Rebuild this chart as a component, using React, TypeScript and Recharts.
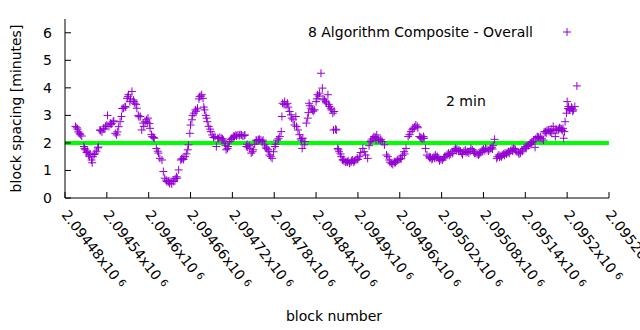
import React from "react";
import { ScatterChart, Scatter, XAxis, YAxis, ReferenceLine } from "recharts";

// block number ticks and their printed mantissas (x10^6)
const xTicks = [
  2094480, 2094540, 2094600, 2094660, 2094720, 2094780, 2094840, 2094900, 2094960,
  2095020, 2095080, 2095140, 2095200, 2095260,
];
const xTickMantissas = [
  "2.09448", "2.09454", "2.0946", "2.09466", "2.09472", "2.09478", "2.09484", "2.0949",
  "2.09496", "2.09502", "2.09508", "2.09514", "2.0952", "2.09526",
];
const yTicks = [0, 1, 2, 3, 4, 5, 6];
const targetMinutes = 2;

// [block number, block spacing in minutes]
const firstSwing: [number, number][] = [
  [2094495, 2.6], [2094497, 2.55], [2094498, 2.5], [2094499, 2.4], [2094501, 2.35], [2094502, 2.3], [2094504, 2.25],
  [2094507, 1.87], [2094508, 1.8], [2094509, 1.75], [2094511, 1.65], [2094512, 1.7], [2094514, 1.56], [2094515, 1.5],
  [2094516, 1.6], [2094518, 1.38], [2094519, 1.28], [2094520, 1.5], [2094522, 1.58], [2094523, 1.63], [2094525, 1.7],
  [2094527, 1.82], [2094528, 1.85], [2094530, 2.47], [2094531, 2.45], [2094533, 2.4], [2094535, 2.53], [2094536, 2.5],
  [2094538, 2.6], [2094540, 2.65], [2094541, 3.0], [2094543, 2.6], [2094545, 2.72], [2094546, 2.68], [2094547, 2.7],
  [2094549, 2.77], [2094550, 2.8], [2094552, 2.35], [2094554, 2.29], [2094555, 2.4], [2094557, 2.59], [2094559, 2.77],
  [2094561, 2.96], [2094562, 3.25], [2094564, 3.26], [2094566, 3.32], [2094567, 3.3], [2094569, 3.62], [2094570, 3.68],
  [2094571, 3.75], [2094573, 3.5], [2094574, 3.6], [2094576, 3.87], [2094578, 3.56], [2094579, 3.5], [2094580, 3.44],
  [2094582, 3.4], [2094583, 3.26], [2094585, 3.0], [2094586, 2.95], [2094588, 2.96], [2094590, 2.47], [2094592, 2.72],
  [2094593, 2.6], [2094595, 2.77], [2094597, 2.84], [2094598, 2.75], [2094599, 2.9], [2094601, 2.7], [2094602, 2.53],
  [2094604, 2.3], [2094605, 2.23], [2094607, 2.2], [2094608, 2.17],
];

const secondSwing: [number, number][] = [
  [2094611, 1.8], [2094613, 1.7], [2094614, 1.63], [2094616, 1.44], [2094619, 1.38], [2094621, 0.96], [2094623, 0.72],
  [2094625, 0.65], [2094626, 0.6], [2094628, 0.58], [2094629, 0.62], [2094630, 0.53], [2094632, 0.6], [2094633, 0.51],
  [2094635, 0.65], [2094636, 0.6], [2094638, 0.7], [2094640, 0.77], [2094641, 0.72], [2094643, 1.02], [2094646, 1.38],
  [2094647, 1.42], [2094649, 1.44], [2094650, 1.4], [2094652, 1.5], [2094654, 1.6], [2094656, 1.75], [2094657, 1.93],
  [2094659, 2.35], [2094660, 2.65], [2094662, 2.84], [2094663, 3.0], [2094665, 3.08], [2094667, 3.2], [2094668, 3.15],
  [2094670, 3.26], [2094672, 3.6], [2094673, 3.68], [2094675, 3.7], [2094676, 3.75], [2094678, 3.62], [2094679, 3.3],
  [2094680, 3.2], [2094682, 3.0], [2094683, 2.9], [2094684, 2.77], [2094686, 2.6], [2094688, 2.5], [2094689, 2.41],
  [2094691, 2.29], [2094693, 2.2], [2094695, 2.23], [2094697, 1.87], [2094699, 2.17], [2094700, 2.15], [2094702, 2.2],
  [2094704, 2.17], [2094706, 2.15], [2094707, 2.1], [2094709, 1.99], [2094710, 1.9], [2094711, 1.75], [2094713, 1.8],
  [2094714, 1.87], [2094716, 2.05], [2094718, 2.12], [2094719, 2.17], [2094721, 2.2], [2094722, 2.25], [2094723, 2.23],
  [2094725, 2.28], [2094726, 2.25], [2094728, 2.29], [2094730, 2.27], [2094731, 2.3], [2094733, 2.29], [2094735, 2.25],
  [2094737, 2.27],
];

const thirdSwing: [number, number][] = [
  [2094738, 2.29], [2094740, 1.87], [2094741, 1.95], [2094742, 1.85], [2094744, 1.9], [2094745, 1.8], [2094747, 1.63],
  [2094749, 1.68], [2094750, 1.75], [2094752, 1.95], [2094754, 2.1], [2094755, 2.08], [2094757, 2.12], [2094758, 2.1],
  [2094759, 2.13], [2094761, 2.1], [2094763, 2.05], [2094764, 2.1], [2094766, 1.93], [2094768, 1.85], [2094769, 1.8],
  [2094771, 1.75], [2094772, 1.7], [2094773, 1.56], [2094775, 1.5], [2094777, 1.44], [2094779, 1.68], [2094781, 1.87],
  [2094782, 1.95], [2094784, 2.1], [2094786, 2.15], [2094788, 2.23], [2094790, 2.41], [2094791, 2.96], [2094792, 3.44],
  [2094794, 3.4], [2094795, 3.5], [2094797, 3.38], [2094799, 3.44], [2094800, 3.3], [2094802, 3.14], [2094804, 3.02],
  [2094805, 2.9], [2094807, 2.84], [2094809, 2.65], [2094811, 2.96], [2094812, 2.6], [2094814, 2.47], [2094816, 2.3],
  [2094818, 2.15], [2094819, 2.1], [2094820, 1.8], [2094821, 2.17], [2094823, 1.93], [2094824, 2.05], [2094826, 2.72],
  [2094828, 2.9], [2094829, 3.1], [2094830, 3.44], [2094831, 3.35], [2094833, 3.26], [2094835, 3.2], [2094836, 3.15],
  [2094838, 3.2], [2094840, 3.5], [2094841, 3.6], [2094842, 3.75], [2094844, 3.7], [2094845, 3.81], [2094847, 4.53],
  [2094849, 3.99], [2094850, 3.6], [2094852, 3.56], [2094854, 3.5], [2094855, 3.45], [2094857, 3.75], [2094858, 3.4],
  [2094859, 3.32], [2094861, 3.26], [2094862, 3.2], [2094864, 3.08], [2094865, 2.47], [2094866, 3.14], [2094868, 2.5],
];

const fourthSwing: [number, number][] = [
  [2094869, 2.47], [2094871, 1.8], [2094872, 1.75], [2094873, 1.68], [2094875, 1.6], [2094876, 1.5], [2094878, 1.38],
  [2094879, 1.4], [2094880, 1.35], [2094882, 1.3], [2094883, 1.32], [2094885, 1.3], [2094886, 1.35], [2094888, 1.26],
  [2094890, 1.3], [2094891, 1.35], [2094892, 1.38], [2094894, 1.3], [2094895, 1.35], [2094897, 1.38], [2094899, 1.45],
  [2094900, 1.4], [2094902, 1.5], [2094904, 1.65], [2094907, 1.8], [2094909, 1.68], [2094911, 1.56], [2094914, 1.44],
  [2094916, 1.9], [2094918, 2.05], [2094919, 2.1], [2094921, 2.15], [2094923, 2.23], [2094925, 2.2], [2094926, 2.1],
  [2094927, 2.29], [2094929, 2.15], [2094930, 2.1], [2094932, 2.1], [2094933, 2.12], [2094935, 2.05], [2094938, 1.93],
  [2094941, 1.56], [2094943, 1.5], [2094945, 1.38], [2094946, 1.3], [2094948, 1.26], [2094950, 1.22], [2094952, 1.32],
  [2094953, 1.28], [2094954, 1.3], [2094956, 1.35], [2094957, 1.38], [2094959, 1.4], [2094961, 1.44], [2094962, 1.42],
  [2094964, 1.55], [2094966, 1.68], [2094967, 1.6], [2094969, 1.8], [2094972, 2.23], [2094974, 2.3], [2094976, 2.41],
  [2094978, 2.48], [2094979, 2.53], [2094981, 2.58], [2094983, 2.65], [2094985, 2.6], [2094986, 2.55], [2094988, 2.23],
  [2094990, 2.2], [2094991, 2.17], [2094993, 2.15], [2094994, 2.23], [2094995, 2.17], [2094997, 1.8], [2094999, 1.56],
];

const flatStretch: [number, number][] = [
  [2095002, 1.5], [2095003, 1.45], [2095004, 1.48], [2095006, 1.4], [2095007, 1.44], [2095009, 1.5], [2095010, 1.45],
  [2095011, 1.56], [2095013, 1.48], [2095014, 1.5], [2095016, 1.44], [2095017, 1.35], [2095019, 1.4], [2095021, 1.38],
  [2095023, 1.45], [2095024, 1.5], [2095026, 1.5], [2095028, 1.58], [2095030, 1.63], [2095031, 1.55], [2095033, 1.6],
  [2095035, 1.68], [2095036, 1.62], [2095038, 1.75], [2095040, 1.8], [2095041, 1.72], [2095042, 1.78], [2095044, 1.7],
  [2095045, 1.75], [2095047, 1.7], [2095049, 1.63], [2095050, 1.58], [2095052, 1.7], [2095054, 1.75], [2095055, 1.65],
  [2095057, 1.68], [2095059, 1.63], [2095061, 1.7], [2095062, 1.8], [2095064, 1.75], [2095066, 1.68], [2095067, 1.62],
  [2095069, 1.63], [2095071, 1.6], [2095073, 1.56], [2095074, 1.6], [2095076, 1.65], [2095078, 1.75], [2095079, 1.7],
  [2095080, 1.78], [2095082, 1.72], [2095083, 1.8], [2095085, 1.77], [2095087, 1.7], [2095088, 1.75], [2095090, 1.8],
  [2095092, 1.84], [2095093, 1.78], [2095094, 1.9], [2095096, 2.13], [2095099, 1.44], [2095100, 1.5], [2095102, 1.56],
  [2095103, 1.48], [2095104, 1.52], [2095106, 1.5], [2095107, 1.56], [2095109, 1.6], [2095110, 1.55], [2095111, 1.63],
  [2095113, 1.6], [2095114, 1.65], [2095116, 1.68], [2095117, 1.62], [2095119, 1.72], [2095121, 1.77], [2095122, 1.7],
  [2095123, 1.8], [2095125, 1.78], [2095126, 1.75], [2095128, 1.68],
];

const finalRise: [number, number][] = [
  [2095130, 1.65], [2095131, 1.6], [2095133, 1.63], [2095135, 1.75], [2095136, 1.7], [2095138, 1.8], [2095140, 1.85],
  [2095141, 1.8], [2095142, 1.87], [2095144, 1.9], [2095145, 1.92], [2095147, 1.99], [2095148, 1.95], [2095149, 2.02],
  [2095151, 2.05], [2095152, 2.1], [2095154, 1.84], [2095155, 2.15], [2095157, 2.23], [2095158, 2.2], [2095159, 2.2],
  [2095161, 2.17], [2095162, 2.22], [2095164, 2.15], [2095166, 2.1], [2095167, 2.4], [2095169, 2.41], [2095170, 2.35],
  [2095171, 2.45], [2095173, 2.47], [2095174, 2.42], [2095176, 2.4], [2095177, 2.5], [2095178, 2.35], [2095180, 2.6],
  [2095181, 2.45], [2095183, 2.23], [2095184, 2.5], [2095185, 2.47], [2095187, 2.45], [2095188, 2.5], [2095189, 2.55],
  [2095190, 2.53], [2095192, 2.5], [2095193, 2.45], [2095194, 2.53], [2095195, 2.17], [2095196, 2.41], [2095197, 2.77],
  [2095199, 3.08], [2095200, 3.5], [2095201, 3.25], [2095202, 3.32], [2095203, 3.2], [2095204, 3.2], [2095206, 3.3],
  [2095207, 3.26], [2095208, 3.15], [2095209, 3.2], [2095211, 3.32], [2095214, 4.07],
];

const PURPLE = "#9400d3";
const FONT = "'DejaVu Sans', sans-serif";

const points = [
  ...firstSwing,
  ...secondSwing,
  ...thirdSwing,
  ...fourthSwing,
  ...flatStretch,
  ...finalRise,
].map(([block, minutes]) => ({ block, minutes }));

const PlusMark = (props: any) => {
  const { cx, cy } = props;
  if (cx == null || cy == null) return null;
  return (
    <g>
      <line x1={cx - 4} x2={cx + 4} y1={cy} y2={cy} stroke={PURPLE} strokeWidth={1} />
      <line x1={cx} x2={cx} y1={cy - 4} y2={cy + 4} stroke={PURPLE} strokeWidth={1} />
    </g>
  );
};

const BottomTick = (props: any) => {
  const { x, y, payload } = props;
  const idx = xTicks.indexOf(payload.value);
  const mantissa = xTickMantissas[idx] ?? "";
  return (
    <g>
      <line x1={x} x2={x} y1={y} y2={y - 6} stroke="#000" />
      <text
        transform={`translate(${x - 4},${y + 17}) rotate(52)`}
        fontSize={14}
        fontFamily={FONT}
        fill="#000"
        textAnchor="start"
      >
        {mantissa}x10
        <tspan dx={4} dy={-3} fontSize={10}>
          6
        </tspan>
      </text>
    </g>
  );
};

const TopTick = (props: any) => {
  const { x, y } = props;
  return <line x1={x} x2={x} y1={y} y2={y + 6} stroke="#000" />;
};

const LeftTick = (props: any) => {
  const { x, y, payload } = props;
  return (
    <g>
      <line x1={x} x2={x + 6} y1={y} y2={y} stroke="#000" />
      <text x={x - 13} y={y + 5} textAnchor="end" fontSize={14} fontFamily={FONT} fill="#000">
        {payload.value}
      </text>
    </g>
  );
};

const RightTick = (props: any) => {
  const { x, y } = props;
  return <line x1={x} x2={x - 6} y1={y} y2={y} stroke="#000" />;
};

export default function App() {
  return (
    <div style={{ position: "absolute", left: 0, top: 0, width: 640, height: 330, background: "#fff", overflow: "hidden" }}>
      <ScatterChart width={640} height={330} margin={{ top: 19, right: 31, bottom: 0, left: 0 }}>
        <XAxis
          xAxisId="main"
          dataKey="block"
          type="number"
          domain={[2094480, 2095260]}
          ticks={xTicks}
          allowDataOverflow
          height={132}
          tickSize={0}
          tickMargin={0}
          tickLine={false}
          axisLine={{ stroke: "#000" }}
          tick={<BottomTick />}
          interval={0}
        />
        <XAxis
          xAxisId="mirror"
          orientation="top"
          type="number"
          domain={[2094480, 2095260]}
          ticks={xTicks}
          allowDataOverflow
          height={0}
          tickSize={0}
          tickMargin={0}
          tickLine={false}
          axisLine={{ stroke: "#000" }}
          tick={<TopTick />}
          interval={0}
        />
        <YAxis
          yAxisId="main"
          dataKey="minutes"
          type="number"
          domain={[0, 6.5]}
          ticks={yTicks}
          allowDataOverflow
          width={65}
          tickSize={0}
          tickMargin={0}
          tickLine={false}
          axisLine={{ stroke: "#000" }}
          tick={<LeftTick />}
          interval={0}
        />
        <YAxis
          yAxisId="mirror"
          orientation="right"
          type="number"
          domain={[0, 6.5]}
          ticks={yTicks}
          allowDataOverflow
          width={0}
          tickSize={0}
          tickMargin={0}
          tickLine={false}
          axisLine={{ stroke: "#000" }}
          tick={<RightTick />}
          interval={0}
        />
        <Scatter
          xAxisId="main"
          yAxisId="main"
          data={points}
          shape={<PlusMark />}
          isAnimationActive={false}
        />
        <ReferenceLine
          xAxisId="main"
          yAxisId="main"
          y={targetMinutes}
          stroke="#00ff00"
          strokeWidth={4}
        />
      </ScatterChart>
      <svg
        width={640}
        height={330}
        style={{ position: "absolute", left: 0, top: 0, pointerEvents: "none" }}
        fontFamily={FONT}
        fontSize={14}
      >
        <text transform="translate(21,108.5) rotate(-90)" textAnchor="middle" fill="#000">
          block spacing [minutes]
        </text>
        <text x={334} y={321} textAnchor="middle" fill="#000">
          block number
        </text>
        <text x={533} y={37} textAnchor="end" fill="#000">
          8 Algorithm Composite - Overall
        </text>
        <line x1={563} x2={571} y1={32} y2={32} stroke={PURPLE} />
        <line x1={567} x2={567} y1={28} y2={36} stroke={PURPLE} />
        <text x={446} y={106} fill="#000">
          2 min
        </text>
      </svg>
    </div>
  );
}
